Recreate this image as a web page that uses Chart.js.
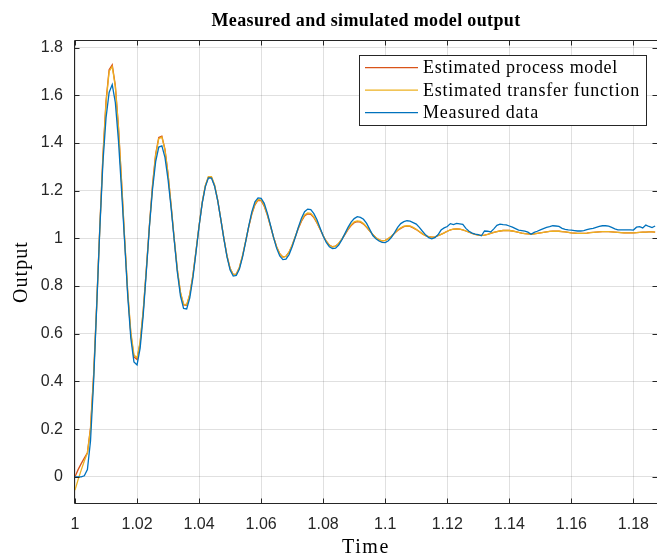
<!DOCTYPE html>
<html>
<head>
<meta charset="utf-8">
<title>Measured and simulated model output</title>
<script src="https://cdn.jsdelivr.net/npm/chart.js@4/dist/chart.umd.min.js"></script>
<style>
  html, body { margin: 0; padding: 0; background: #ffffff; }
  #wrap { width: 657px; height: 557px; }
</style>
</head>
<body>
<div id="wrap"><canvas id="chart" width="657" height="557"></canvas></div>
<script>
// Sample instants (s)
const time = [
  1.000,1.001,1.002,1.003,1.004,1.005,1.006,1.007,1.008,1.009,
  1.010,1.011,1.012,1.013,1.014,1.015,1.016,1.017,1.018,1.019,
  1.020,1.021,1.022,1.023,1.024,1.025,1.026,1.027,1.028,1.029,
  1.030,1.031,1.032,1.033,1.034,1.035,1.036,1.037,1.038,1.039,
  1.040,1.041,1.042,1.043,1.044,1.045,1.046,1.047,1.048,1.049,
  1.050,1.051,1.052,1.053,1.054,1.055,1.056,1.057,1.058,1.059,
  1.060,1.061,1.062,1.063,1.064,1.065,1.066,1.067,1.068,1.069,
  1.070,1.071,1.072,1.073,1.074,1.075,1.076,1.077,1.078,1.079,
  1.080,1.081,1.082,1.083,1.084,1.085,1.086,1.087,1.088,1.089,
  1.090,1.091,1.092,1.093,1.094,1.095,1.096,1.097,1.098,1.099,
  1.100,1.101,1.102,1.103,1.104,1.105,1.106,1.107,1.108,1.109,
  1.110,1.111,1.112,1.113,1.114,1.115,1.116,1.117,1.118,1.119,
  1.120,1.121,1.122,1.123,1.124,1.125,1.126,1.127,1.128,1.129,
  1.130,1.131,1.132,1.133,1.134,1.135,1.136,1.137,1.138,1.139,
  1.140,1.141,1.142,1.143,1.144,1.145,1.146,1.147,1.148,1.149,
  1.150,1.151,1.152,1.153,1.154,1.155,1.156,1.157,1.158,1.159,
  1.160,1.161,1.162,1.163,1.164,1.165,1.166,1.167,1.168,1.169,
  1.170,1.171,1.172,1.173,1.174,1.175,1.176,1.177,1.178,1.179,
  1.180,1.181,1.182,1.183,1.184,1.185,1.186,1.187
];

// Simulated output of the estimated process model
const processModel = [
  0.000,0.030,0.055,0.078,0.100,0.205,0.428,0.726,1.049,1.347,
  1.576,1.708,1.728,1.641,1.468,1.240,0.995,0.770,0.599,0.503,
  0.492,0.562,0.696,0.871,1.057,1.226,1.354,1.423,1.429,1.373,
  1.269,1.135,0.994,0.866,0.771,0.721,0.719,0.764,0.844,0.947,
  1.054,1.150,1.220,1.257,1.256,1.221,1.159,1.080,0.999,0.927,
  0.874,0.848,0.850,0.878,0.926,0.986,1.048,1.102,1.141,1.160,
  1.158,1.135,1.098,1.052,1.005,0.965,0.936,0.922,0.925,0.942,
  0.971,1.006,1.042,1.072,1.094,1.103,1.101,1.087,1.065,1.038,
  1.011,0.988,0.972,0.965,0.968,0.979,0.996,1.016,1.037,1.054,
  1.066,1.070,1.068,1.060,1.046,1.031,1.016,1.003,0.994,0.990,
  0.992,0.999,1.009,1.021,1.033,1.042,1.049,1.051,1.050,1.044,
  1.037,1.028,1.019,1.011,1.007,1.005,1.006,1.011,1.017,1.023,
  1.030,1.036,1.039,1.040,1.039,1.036,1.031,1.026,1.021,1.017,
  1.014,1.013,1.014,1.017,1.021,1.025,1.028,1.031,1.033,1.034,
  1.033,1.031,1.028,1.025,1.022,1.020,1.019,1.018,1.019,1.021,
  1.023,1.025,1.027,1.029,1.030,1.030,1.030,1.028,1.027,1.025,
  1.023,1.022,1.021,1.021,1.021,1.022,1.024,1.025,1.026,1.027,
  1.028,1.028,1.028,1.027,1.026,1.025,1.024,1.023,1.023,1.023,
  1.023,1.024,1.025,1.026,1.026,1.027,1.027,1.026
];

// Simulated output of the estimated transfer function
const transferFunction = [
  -0.056,-0.012,0.028,0.066,0.100,0.200,0.420,0.720,1.045,1.340,
  1.568,1.700,1.721,1.637,1.468,1.243,1.000,0.777,0.607,0.511,
  0.499,0.567,0.699,0.871,1.054,1.221,1.349,1.418,1.425,1.371,
  1.269,1.137,0.997,0.869,0.774,0.724,0.722,0.766,0.845,0.947,
  1.053,1.150,1.221,1.259,1.259,1.224,1.161,1.081,0.999,0.926,
  0.873,0.848,0.850,0.879,0.928,0.988,1.050,1.105,1.144,1.163,
  1.161,1.138,1.100,1.053,1.005,0.964,0.935,0.921,0.924,0.942,
  0.972,1.008,1.045,1.076,1.098,1.107,1.105,1.090,1.067,1.039,
  1.011,0.988,0.971,0.964,0.967,0.979,0.997,1.018,1.040,1.057,
  1.069,1.073,1.071,1.062,1.048,1.032,1.016,1.003,0.994,0.990,
  0.992,0.999,1.010,1.022,1.035,1.044,1.051,1.053,1.052,1.046,
  1.038,1.029,1.019,1.011,1.007,1.005,1.006,1.011,1.017,1.023,
  1.030,1.036,1.039,1.040,1.039,1.036,1.031,1.026,1.021,1.017,
  1.014,1.013,1.014,1.017,1.021,1.025,1.028,1.031,1.033,1.034,
  1.033,1.031,1.028,1.025,1.022,1.020,1.019,1.018,1.019,1.021,
  1.023,1.025,1.027,1.029,1.030,1.030,1.030,1.028,1.027,1.025,
  1.023,1.022,1.021,1.021,1.021,1.022,1.024,1.025,1.026,1.027,
  1.028,1.028,1.028,1.027,1.026,1.025,1.024,1.023,1.023,1.023,
  1.023,1.024,1.025,1.026,1.026,1.027,1.027,1.026
];

// Measured response
const measured = [
  0.000,0.000,0.000,0.004,0.030,0.150,0.400,0.715,1.040,1.318,
  1.505,1.612,1.645,1.570,1.412,1.205,0.985,0.758,0.580,0.482,
  0.469,0.540,0.680,0.862,1.050,1.208,1.322,1.383,1.388,1.340,
  1.246,1.126,0.991,0.857,0.758,0.706,0.704,0.750,0.834,0.941,
  1.051,1.147,1.216,1.254,1.253,1.219,1.158,1.080,0.997,0.922,
  0.867,0.842,0.845,0.871,0.921,0.985,1.051,1.111,1.153,1.170,
  1.168,1.147,1.106,1.056,1.004,0.958,0.926,0.911,0.913,0.932,
  0.965,1.005,1.047,1.085,1.112,1.123,1.121,1.104,1.078,1.044,
  1.010,0.983,0.965,0.957,0.959,0.972,0.994,1.020,1.046,1.068,
  1.083,1.091,1.088,1.080,1.063,1.038,1.012,0.998,0.989,0.983,
  0.982,0.990,1.004,1.024,1.046,1.062,1.070,1.074,1.072,1.066,
  1.060,1.046,1.030,1.015,1.003,0.998,1.003,1.015,1.035,1.044,
  1.050,1.062,1.058,1.063,1.061,1.059,1.042,1.030,1.022,1.018,
  1.016,1.011,1.031,1.030,1.027,1.040,1.055,1.060,1.058,1.057,
  1.052,1.047,1.041,1.035,1.033,1.030,1.026,1.017,1.025,1.030,
  1.036,1.041,1.046,1.049,1.053,1.052,1.050,1.042,1.038,1.036,
  1.035,1.033,1.031,1.031,1.033,1.037,1.040,1.042,1.046,1.050,
  1.053,1.053,1.051,1.046,1.040,1.036,1.036,1.036,1.036,1.036,
  1.035,1.047,1.049,1.044,1.056,1.050,1.045,1.052
];

const seriesNames = ['Estimated process model', 'Estimated transfer function', 'Measured data'];
const seriesColors = ['#D95319', '#EDB120', '#0072BD'];

const xTicks = [1, 1.02, 1.04, 1.06, 1.08, 1.1, 1.12, 1.14, 1.16, 1.18];
const xTickLabels = ['1', '1.02', '1.04', '1.06', '1.08', '1.1', '1.12', '1.14', '1.16', '1.18'];
const yTicks = [0, 0.2, 0.4, 0.6, 0.8, 1, 1.2, 1.4, 1.6, 1.8];
const yTickLabels = ['0', '0.2', '0.4', '0.6', '0.8', '1', '1.2', '1.4', '1.6', '1.8'];

const titleText = 'Measured and simulated model output';
const xLabelText = 'Time';
const yLabelText = 'Output';

const INK = '#262626';
const SERIF = '"Liberation Serif", "DejaVu Serif", serif';

function toPoints(values) {
  return values.map((v, i) => ({ x: time[i], y: v }));
}

// Draws text widened with letter spacing so it spans the given width
function spacedText(ctx, text, x, y, width, align) {
  ctx.letterSpacing = '0px';
  const natural = ctx.measureText(text).width;
  const extra = Math.max(0, (width - natural) / text.length);
  ctx.letterSpacing = extra.toFixed(2) + 'px';
  const w = ctx.measureText(text).width;
  let sx = x;
  if (align === 'center') sx = x - w / 2;
  ctx.textAlign = 'left';
  ctx.fillText(text, sx, y);
  ctx.letterSpacing = '0px';
}

// Box, inward tick marks, title, axis labels and legend
const decorations = {
  id: 'decorations',
  afterDatasetsDraw(chart) {
    const { ctx, chartArea: a, scales } = chart;
    const xs = scales.x, ys = scales.y;
    const L = a.left - 0.5, R = a.right + 0.5, T = a.top - 0.5, B = a.bottom + 0.5;
    const tick = 5;
    ctx.save();
    ctx.strokeStyle = INK;
    ctx.lineWidth = 1;
    ctx.beginPath();
    ctx.rect(L, T, R - L, B - T);
    xTicks.forEach(v => {
      const px = Math.round(xs.getPixelForValue(v)) + 0.5;
      ctx.moveTo(px, B); ctx.lineTo(px, B - tick);
      ctx.moveTo(px, T); ctx.lineTo(px, T + tick);
    });
    yTicks.forEach(v => {
      const py = Math.round(ys.getPixelForValue(v)) + 0.5;
      ctx.moveTo(L, py); ctx.lineTo(L + tick, py);
      ctx.moveTo(R, py); ctx.lineTo(R - tick, py);
    });
    ctx.stroke();

    // Legend
    const lx = 359.5, ly = 55.5, lw = 287, lh = 70;
    ctx.fillStyle = '#ffffff';
    ctx.fillRect(lx, ly, lw, lh);
    ctx.strokeStyle = INK;
    ctx.strokeRect(lx, ly, lw, lh);
    const rows = [67.7, 90.2, 112.7];
    const widths = [195, 217, 116];
    ctx.font = '18px ' + SERIF;
    ctx.textBaseline = 'middle';
    seriesNames.forEach((name, i) => {
      ctx.strokeStyle = seriesColors[i];
      ctx.lineWidth = 1.3;
      ctx.beginPath();
      ctx.moveTo(365, rows[i]);
      ctx.lineTo(418, rows[i]);
      ctx.stroke();
      ctx.fillStyle = '#000000';
      spacedText(ctx, name, 423, rows[i] + 1, widths[i], 'left');
    });

    // Title
    const cx = (a.left + a.right) / 2;
    ctx.fillStyle = '#000000';
    ctx.textBaseline = 'alphabetic';
    ctx.font = 'bold 18px ' + SERIF;
    spacedText(ctx, titleText, cx, 26, 309, 'center');

    // Axis labels
    ctx.font = '20px ' + SERIF;
    spacedText(ctx, xLabelText, cx, 553, 48, 'center');
    ctx.translate(27, (a.top + a.bottom) / 2);
    ctx.rotate(-Math.PI / 2);
    spacedText(ctx, yLabelText, 0, 0, 62, 'center');
    ctx.restore();
  }
};

const ds = (i, values, order) => ({
  label: seriesNames[i],
  data: toPoints(values),
  borderColor: seriesColors[i],
  backgroundColor: seriesColors[i],
  borderWidth: 1.3,
  pointRadius: 0,
  tension: 0,
  fill: false,
  order: order
});

new Chart(document.getElementById('chart'), {
  type: 'line',
  data: {
    datasets: [
      ds(0, processModel, 2),
      ds(1, transferFunction, 1),
      ds(2, measured, 0)
    ]
  },
  options: {
    responsive: false,
    animation: false,
    devicePixelRatio: 1,
    layout: { padding: { top: 41, right: 0, left: 0, bottom: 0 } },
    plugins: {
      legend: { display: false },
      title: { display: false },
      tooltip: { enabled: false }
    },
    scales: {
      x: {
        type: 'linear',
        min: 1,
        max: 1.1876,
        afterBuildTicks: s => { s.ticks = xTicks.map(v => ({ value: v })); },
        afterFit: s => { s.height = 54; s.paddingLeft = 0; s.paddingRight = 0; },
        ticks: {
          autoSkip: false,
          maxRotation: 0,
          padding: 12,
          color: INK,
          font: { family: '"Liberation Sans", Arial, sans-serif', size: 16 },
          callback: (v, i) => xTickLabels[i]
        },
        grid: { color: 'rgba(38,38,38,0.14)', lineWidth: 1, drawTicks: false },
        border: { display: false }
      },
      y: {
        type: 'linear',
        min: -0.11,
        max: 1.828,
        afterBuildTicks: s => { s.ticks = yTicks.map(v => ({ value: v })); },
        afterFit: s => { s.width = 75; s.paddingTop = 0; s.paddingBottom = 0; },
        ticks: {
          autoSkip: false,
          padding: 12,
          color: INK,
          font: { family: '"Liberation Sans", Arial, sans-serif', size: 16 },
          callback: (v, i) => yTickLabels[i]
        },
        grid: { color: 'rgba(38,38,38,0.14)', lineWidth: 1, drawTicks: false },
        border: { display: false }
      }
    }
  },
  plugins: [decorations]
});
</script>
</body>
</html>
